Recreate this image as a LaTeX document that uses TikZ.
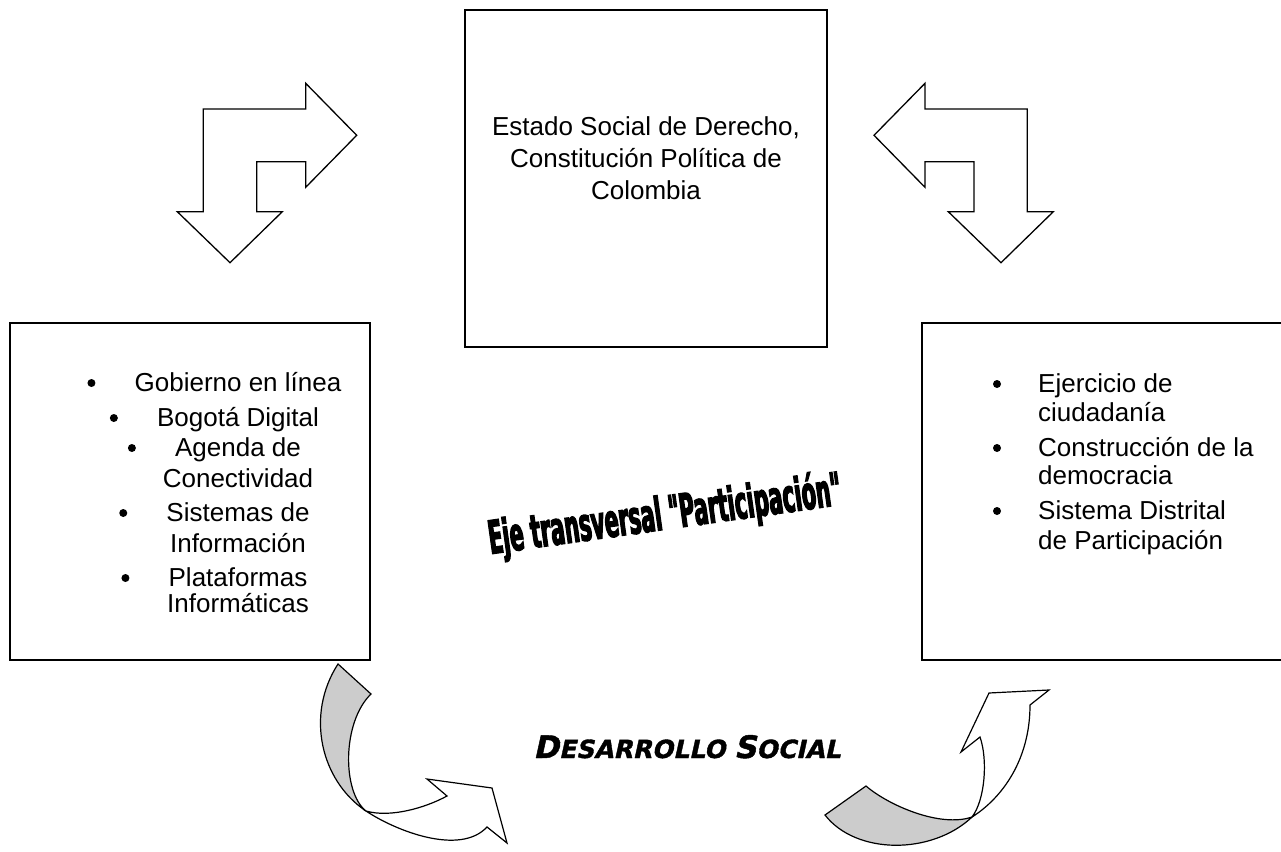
\documentclass[tikz,border=0pt]{standalone}
\usepackage{fontspec}
\setmainfont{Liberation Sans}
\newfontfamily\ejefont[FakeBold=2.5,FakeStretch=0.45]{DejaVu Sans Bold}
\newfontfamily\desfont[FakeBold=1.5,FakeSlant=0.22]{DejaVu Sans Bold}

\begin{document}
\begin{tikzpicture}[x=1pt, y=-1pt,
    box/.style={draw, line width=1.3pt, inner sep=0pt},
    item/.style={inner sep=0pt, anchor=base, font=\fontsize{26}{32}\selectfont},
    ritem/.style={item, anchor=base west},
    bul/.style={circle, fill, inner sep=0pt, minimum size=8pt},
    bent/.style={draw, fill=white, line width=1.3pt, line join=miter},
    curl/.style={draw, line width=1.2pt, line join=miter}]
  \useasboundingbox (0,0) rectangle (1281,851);
  % Help lines
  %\draw[help lines,step=50,gray!50] (0,0) grid (1281,851);
  %\foreach \x in {0, 100, ..., 1200} \node[below, gray!50] at (\x,0){\tiny{\x}};

  % boxes
  \node[box, minimum width=362pt, minimum height=337pt] (estado) at (646,178.5) {};
  \node[box, minimum width=360pt, minimum height=337pt] (tic) at (190,491.5) {};
  \node[box, minimum width=370pt, minimum height=337pt] (ciud) at (1107,491.5) {};

  \node[item, anchor=center, align=center] (estadotxt) at (646,158.5)
    {Estado Social de Derecho,\\Constitución Política de\\Colombia};

  % left list
  \node[item] (gob) at (238,391) {Gobierno en línea};
  \node[item] (bog) at (238,426) {Bogotá Digital};
  \node[item] (age) at (238,456) {Agenda de};
  \node[item] (con) at (238,487) {Conectividad};
  \node[item] (sis) at (238,521) {Sistemas de};
  \node[item] (inf) at (238,552) {Información};
  \node[item] (pla) at (238,586) {Plataformas};
  \node[item] (infm) at (238,612) {Informáticas};
  \foreach \n in {gob, bog, age, sis, pla}
    \node[bul] (b-\n) at ([xshift=-43pt, yshift=8pt]\n.base west) {};

  % right list
  \node[ritem] (ej1) at (1038,392) {Ejercicio de};
  \node[ritem] (ej2) at (1038,421) {ciudadanía};
  \node[ritem] (cd1) at (1038,456) {Construcción de la};
  \node[ritem] (cd2) at (1038,484) {democracia};
  \node[ritem] (sd1) at (1038,519) {Sistema Distrital};
  \node[ritem] (sd2) at (1038,549) {de Participación};
  \foreach \n in {ej1, cd1, sd1}
    \node[bul] (b-\n) at ([xshift=-41pt, yshift=8pt]\n.base west) {};

  % bent arrows at the top
  \draw[bent] (203.3,109) -- (305.7,109) -- (305.7,83.3) -- (356.7,135.3)
    -- (305.7,187.3) -- (305.7,161.7) -- (256.7,161.7) -- (256.7,211.7)
    -- (282.3,211.7) -- (230,262.7) -- (177.3,211.7) -- (203.3,211.7) -- cycle;
  \draw[bent] (925,109) -- (1027.3,109) -- (1027.3,211.7) -- (1053.3,211.7)
    -- (1001,262.7) -- (948.3,211.7) -- (974,211.7) -- (974,161.7)
    -- (925,161.7) -- (925,187.3) -- (874,135.3) -- (925,83.3) -- cycle;

  % curled arrows at the bottom
  \draw[curl, fill=gray!40] (338,664) -- (371,694)
    .. controls (342,722) and (342,792) .. (366,811)
    .. controls (321,781) and (305,715) .. (338,664) -- cycle;
  \draw[curl, fill=white] (366,811) .. controls (390,818) and (425,808) .. (447,796)
    -- (427,779) -- (492,788) -- (507,843) -- (487,827)
    .. controls (460,856) and (396,831) .. (366,811) -- cycle;
  \draw[curl, fill=gray!40] (866,786) .. controls (888,805) and (940,828) .. (972,817)
    .. controls (932,855) and (856,855) .. (825,815) -- cycle;
  \draw[curl, fill=white] (972,817) .. controls (985,800) and (988,760) .. (980,737)
    -- (961,752) -- (989,693) -- (1049,690) -- (1030,705)
    .. controls (1030,760) and (1002,798) .. (972,817) -- cycle;

  % titles
  \node[rotate=8, inner sep=0pt] (eje) at (665,516)
    {\ejefont\fontsize{46}{46}\selectfont Eje transversal "Participación"};
  \node[anchor=base west, inner sep=0pt] (des) at (533,758)
    {\desfont\fontsize{31}{31}\selectfont D\fontsize{25}{25}\selectfont ESARROLLO
     \fontsize{31}{31}\selectfont S\fontsize{25}{25}\selectfont OCIAL};
\end{tikzpicture}
\end{document}
